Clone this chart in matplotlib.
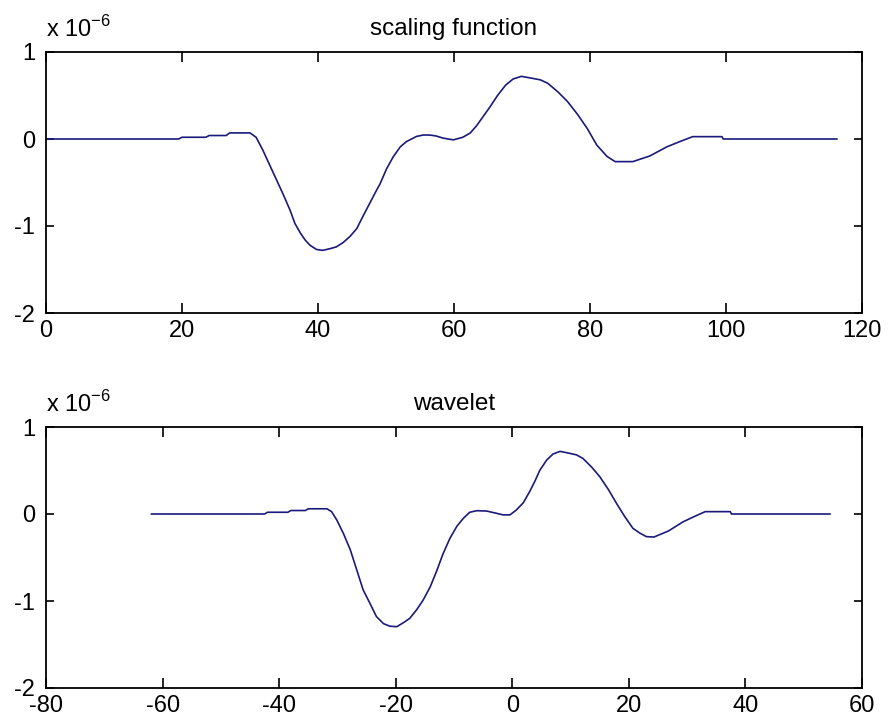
import matplotlib
matplotlib.use("Agg")
import matplotlib.pyplot as plt
from matplotlib.ticker import FuncFormatter
import numpy as np

# ---- data (values in units of 1e-6) ----
scaling_x = [0, 19.5, 20, 23.5, 24, 26.5, 27, 30, 30.9, 31.9, 32.9, 33.9, 34.9,
             35.9, 36.6, 37.4, 38.1, 38.8, 39.8, 40.7, 41.8, 42.7, 43.7, 44.7,
             45.7, 46.6, 47.6, 48.6, 49.1, 50.1, 51.1, 52.1, 53.0, 54.5, 55.5,
             56.5, 57.4, 58.4, 59.9, 61.3, 62.4, 63.3, 64.3, 65.3, 66.4, 67.6,
             68.7, 69.9, 71.0, 72.7, 73.8, 75.3, 76.7, 78.2, 79.6, 81.0, 82.5,
             83.7, 86.3, 88.8, 91.3, 93.2, 95.1, 99.4, 99.6, 116.3]
scaling_y = [0, 0, 0.02, 0.02, 0.04, 0.04, 0.07, 0.07, 0.02, -0.13, -0.30,
             -0.47, -0.64, -0.82, -0.97, -1.08, -1.16, -1.22, -1.27, -1.28,
             -1.26, -1.24, -1.19, -1.12, -1.03, -0.89, -0.74, -0.59, -0.52,
             -0.34, -0.20, -0.09, -0.03, 0.03, 0.046, 0.045, 0.034, 0.01, -0.01,
             0.02, 0.07, 0.15, 0.26, 0.37, 0.50, 0.62, 0.69, 0.72, 0.705, 0.68,
             0.64, 0.54, 0.43, 0.28, 0.12, -0.07, -0.20, -0.26, -0.26, -0.195,
             -0.09, -0.03, 0.027, 0.027, 0.0, 0.0]

wavelet_x = [-61.9, -42.5, -42, -38.5, -38, -35.5, -35, -31.8, -31.0, -30.1,
             -29.0, -27.8, -26.7, -25.6, -24.4, -23.3, -22.1, -21.0, -19.8,
             -18.7, -17.6, -16.4, -15.3, -14.1, -13.0, -11.9, -10.7, -9.5,
             -8.4, -7.3, -6.1, -4.4, -2.7, -1.6, -0.4, 0.7, 1.9, 3.0, 3.9, 4.7,
             5.9, 7.0, 8.2, 9.3, 11.0, 12.1, 13.6, 15.0, 16.5, 17.9, 19.3, 20.7,
             21.9, 23.0, 24.3, 26.8, 29.3, 31.2, 33.1, 37.4, 37.6, 54.5]
wavelet_y = [0, 0, 0.02, 0.02, 0.04, 0.04, 0.06, 0.06, 0.027, -0.07, -0.22,
             -0.41, -0.64, -0.87, -1.03, -1.18, -1.26, -1.29, -1.295, -1.25,
             -1.20, -1.10, -0.99, -0.84, -0.66, -0.46, -0.28, -0.14, -0.05,
             0.02, 0.038, 0.034, 0.008, -0.01, -0.01, 0.046, 0.13, 0.26, 0.38,
             0.50, 0.62, 0.69, 0.72, 0.705, 0.68, 0.64, 0.54, 0.43, 0.28,
             0.12, -0.03, -0.165, -0.22, -0.26, -0.265, -0.195, -0.09, -0.03,
             0.027, 0.027, 0.0, 0.0]

SCALE = 1e-6
titles = ["scaling function", "wavelet"]
xlims = [(0, 120), (-80, 60)]
xticks = [list(range(0, 121, 20)), list(range(-80, 61, 20))]
yticks = [-2, -1, 0, 1]

# ---- fonts ----
plt.rcParams["font.family"] = ["Liberation Sans", "DejaVu Sans"]
plt.rcParams["mathtext.fontset"] = "custom"
plt.rcParams["mathtext.rm"] = "Liberation Sans"

line_color = "#1a1a7c"

fig = plt.figure(figsize=(8.88, 7.28), dpi=100)
positions = [
    [46 / 888, 1 - 313 / 728, 816 / 888, 261 / 728],
    [46 / 888, 1 - 688 / 728, 816 / 888, 261 / 728],
]
series = [(scaling_x, scaling_y), (wavelet_x, wavelet_y)]

for pos, (xs, ys), title, xl, xt in zip(positions, series, titles, xlims, xticks):
    ax = fig.add_axes(pos)
    ax.plot(np.array(xs), np.array(ys) * SCALE, color=line_color, lw=1.2)
    ax.set_xlim(*xl)
    ax.set_ylim(-2 * SCALE, 1 * SCALE)
    ax.set_xticks(xt)
    ax.set_yticks([v * SCALE for v in yticks])
    ax.yaxis.set_major_formatter(FuncFormatter(lambda v, p: f"{v / SCALE:g}"))
    ax.xaxis.set_major_formatter(FuncFormatter(lambda v, p: f"{v:g}"))
    ax.tick_params(direction="in", top=True, right=True, width=1.2,
                   labelsize=17, colors="black")
    ax.tick_params(axis="x", length=7, pad=5)
    ax.tick_params(axis="y", length=6, pad=8)
    for sp in ax.spines.values():
        sp.set_linewidth(1.3)
    ax.set_title(title, fontsize=17.5, pad=12)
    # exponent multiplier above the upper-left corner of the frame
    ax.text(0.0, 1.04, r"x 10$^{-6}$", transform=ax.transAxes,
            fontsize=17, ha="left", va="bottom")

fig.savefig("out.png", dpi=100, facecolor="white")
